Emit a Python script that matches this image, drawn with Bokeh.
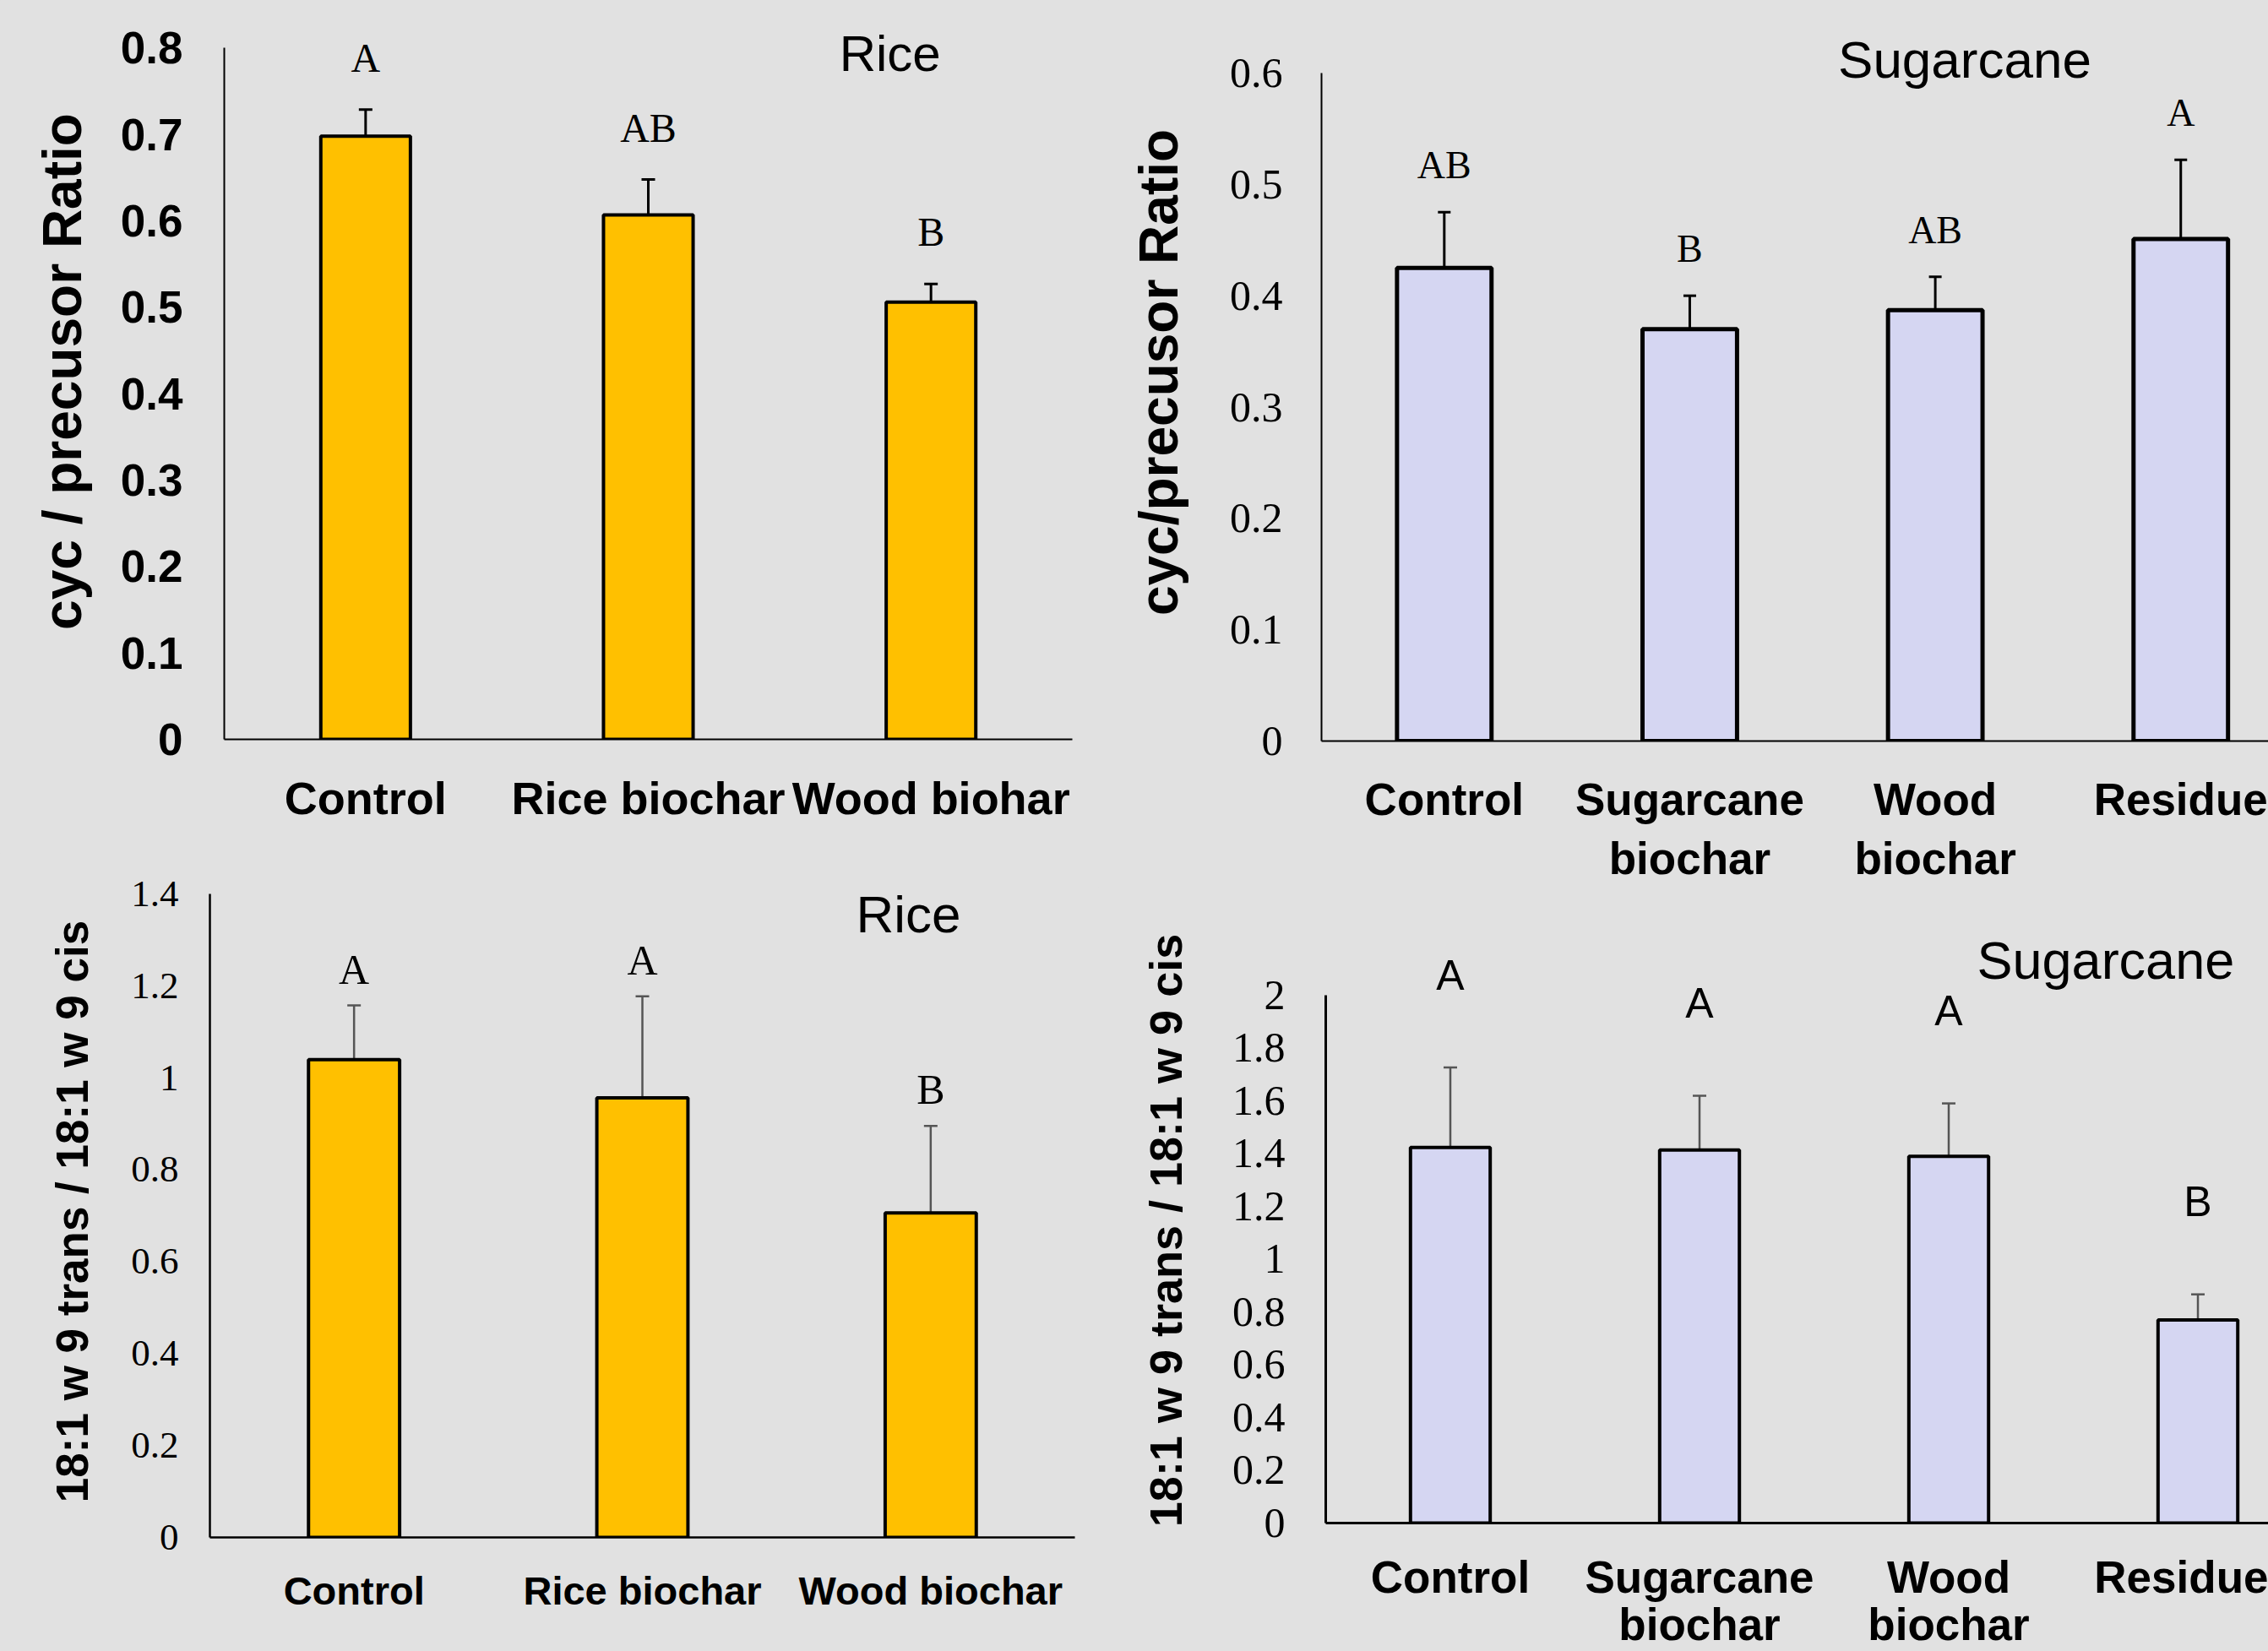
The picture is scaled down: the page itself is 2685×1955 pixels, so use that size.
from bokeh.plotting import figure
from bokeh.models import (Range1d, ColumnDataSource, LabelSet, Label, FixedTicker,
                          Whisker, TeeHead, CustomJSTickFormatter)
from bokeh.layouts import row, column
from bokeh.core.properties import value
from bokeh.embed import file_html
from bokeh.resources import INLINE

# ---------------- data ----------------
rice_cyc_categories = ["Control", "Rice biochar", "Wood biohar"]
rice_cyc_mean = [0.698, 0.607, 0.506]
rice_cyc_err = [0.031, 0.041, 0.021]
rice_cyc_letters = ["A", "AB", "B"]
rice_cyc_yticks = [0, 0.1, 0.2, 0.3, 0.4, 0.5, 0.6, 0.7, 0.8]
rice_cyc_ytick_labels = ["0", "0.1", "0.2", "0.3", "0.4", "0.5", "0.6", "0.7", "0.8"]

sug_cyc_categories = ["Control", "Sugarcane\nbiochar", "Wood\nbiochar", "Residue"]
sug_cyc_mean = [0.425, 0.370, 0.387, 0.451]
sug_cyc_err = [0.050, 0.030, 0.030, 0.071]
sug_cyc_letters = ["AB", "B", "AB", "A"]
sug_cyc_yticks = [0, 0.1, 0.2, 0.3, 0.4, 0.5, 0.6]
sug_cyc_ytick_labels = ["0", "0.1", "0.2", "0.3", "0.4", "0.5", "0.6"]

rice_trans_categories = ["Control", "Rice biochar", "Wood biochar"]
rice_trans_mean = [1.039, 0.956, 0.706]
rice_trans_err = [0.118, 0.221, 0.189]
rice_trans_letters = ["A", "A", "B"]
rice_trans_yticks = [0, 0.2, 0.4, 0.6, 0.8, 1.0, 1.2, 1.4]
rice_trans_ytick_labels = ["0", "0.2", "0.4", "0.6", "0.8", "1", "1.2", "1.4"]

sug_trans_categories = ["Control", "Sugarcane\nbiochar", "Wood\nbiochar", "Residue"]
sug_trans_mean = [1.422, 1.413, 1.389, 0.769]
sug_trans_err = [0.303, 0.205, 0.200, 0.097]
sug_trans_letters = ["A", "A", "A", "B"]
sug_trans_yticks = [0, 0.2, 0.4, 0.6, 0.8, 1.0, 1.2, 1.4, 1.6, 1.8, 2.0]
sug_trans_ytick_labels = ["0", "0.2", "0.4", "0.6", "0.8", "1", "1.2", "1.4", "1.6", "1.8", "2"]

# ---------------- style ----------------
BG = "#e1e1e1"
GOLD = "#FFC000"
LAV = "#D5D6F2"
SANS = "Liberation Sans"
SERIF = "Liberation Serif"


def panel(cfg):
    cats = cfg["categories"]
    n = len(cats)
    xs = list(range(n))
    p = figure(width=cfg["W"], height=cfg["H"],
               x_range=Range1d(-0.5, cfg["x_end"]), y_range=Range1d(0, cfg["y_top"]),
               output_backend="svg", toolbar_location=None,
               min_border_left=cfg["mb"][0], min_border_right=cfg["mb"][1],
               min_border_top=cfg["mb"][2], min_border_bottom=cfg["mb"][3])
    p.frame_align = False
    p.background_fill_color = BG
    p.border_fill_color = BG
    p.outline_line_color = None
    p.grid.visible = False

    upper = [m + e for m, e in zip(cfg["mean"], cfg["err"])]
    letter_y = [u + cfg["letter_gap"] for u in upper]
    src = ColumnDataSource(dict(x=xs, top=cfg["mean"], upper=upper,
                                letter_y=letter_y, letters=cfg["letters"]))
    p.vbar(x="x", top="top", bottom=0, width=cfg["bar_w"], source=src,
           fill_color=cfg["color"], line_color="black", line_width=cfg["bar_lw"])

    ec = cfg["err_color"]
    w = Whisker(base="x", upper="upper", lower="top", source=src,
                line_color=ec, line_width=cfg["err_lw"],
                upper_head=TeeHead(size=cfg["cap"], line_color=ec, line_width=cfg["err_lw"]),
                lower_head=None)
    p.add_layout(w)

    p.add_layout(LabelSet(x="x", y="letter_y", text="letters", source=src,
                          text_align="center", text_baseline="middle",
                          text_font=value(cfg["letter_font"]),
                          text_font_size=value(cfg["letter_size"]),
                          text_color="black"))

    p.add_layout(Label(x=cfg["title_xy"][0], y=cfg["title_xy"][1], text=cfg["title"],
                       text_align="center", text_baseline="middle",
                       text_font=SANS, text_font_size=cfg["title_size"],
                       text_color="black"))

    # y axis
    ya = p.yaxis[0]
    ya.bounds = (0, cfg["ymax"])
    ya.ticker = FixedTicker(ticks=cfg["yticks"])
    ya.formatter = CustomJSTickFormatter(
        args=dict(tv=cfg["yticks"], lab=cfg["ylabels"]),
        code="const i = tv.findIndex(t => Math.abs(t - tick) < 1e-9); return i < 0 ? '' : lab[i];")
    ya.axis_label = cfg["ylabel"]
    ya.axis_label_text_font = SANS
    ya.axis_label_text_font_style = "bold"
    ya.axis_label_text_font_size = cfg["ylabel_size"]
    ya.axis_label_text_color = "black"
    ya.axis_label_standoff = cfg["ylabel_standoff"]
    ya.major_label_text_font = cfg["ytick_font"]
    ya.major_label_text_font_style = cfg["ytick_style"]
    ya.major_label_text_font_size = cfg["ytick_size"]
    ya.major_label_text_color = "black"
    ya.major_label_standoff = cfg["ytick_standoff"]

    # x axis
    xa = p.xaxis[0]
    xa.ticker = FixedTicker(ticks=xs)
    xa.formatter = CustomJSTickFormatter(
        args=dict(lab=cats),
        code="const i = Math.round(tick); return (i >= 0 && i < lab.length) ? lab[i] : '';")
    xa.major_label_text_font = SANS
    xa.major_label_text_font_style = "bold"
    xa.major_label_text_font_size = cfg["xtick_size"]
    xa.major_label_text_line_height = cfg["xtick_lh"]
    xa.major_label_text_color = "black"
    xa.major_label_standoff = cfg["xtick_standoff"]

    for ax in (xa, ya):
        ax.axis_line_color = "black"
        ax.axis_line_width = cfg["axis_lw"]
        ax.major_tick_line_color = None
        ax.minor_tick_line_color = None
        ax.major_tick_out = 0
        ax.major_tick_in = 0
        ax.minor_tick_out = 0
        ax.minor_tick_in = 0
    return p


p1 = panel(dict(
    categories=rice_cyc_categories, mean=rice_cyc_mean, err=rice_cyc_err, letters=rice_cyc_letters,
    yticks=rice_cyc_yticks, ylabels=rice_cyc_ytick_labels, ymax=0.8, y_top=0.8513,
    W=1300, H=1010, x_end=2.5, mb=(265, 31, 4, 135),
    color=GOLD, bar_w=0.317, bar_lw=4, err_color="black", err_lw=3, cap=16,
    letter_gap=0.060, letter_font=SERIF, letter_size="48px",
    title="Rice", title_xy=(1.855, 0.794), title_size="60px",
    ylabel="cyc / precusor Ratio", ylabel_size="64px", ylabel_standoff=30,
    ytick_font=SANS, ytick_style="bold", ytick_size="53px", ytick_standoff=49,
    xtick_size="54px", xtick_lh=1.2, xtick_standoff=39, axis_lw=2))

p3 = panel(dict(
    categories=rice_trans_categories, mean=rice_trans_mean, err=rice_trans_err, letters=rice_trans_letters,
    yticks=rice_trans_yticks, ylabels=rice_trans_ytick_labels, ymax=1.4, y_top=1.418,
    W=1300, H=945, x_end=2.5, mb=(248, 28, 38, 135),
    color=GOLD, bar_w=0.316, bar_lw=4, err_color="#555555", err_lw=2.5, cap=16,
    letter_gap=0.079, letter_font=SERIF, letter_size="50px",
    title="Rice", title_xy=(1.923, 1.356), title_size="62px",
    ylabel="18:1 w 9 trans / 18:1 w 9 cis", ylabel_size="53px", ylabel_standoff=37,
    ytick_font=SERIF, ytick_style="normal", ytick_size="45px", ytick_standoff=37,
    xtick_size="47px", xtick_lh=1.2, xtick_standoff=36, axis_lw=2.5))

p2 = panel(dict(
    categories=sug_cyc_categories, mean=sug_cyc_mean, err=sug_cyc_err, letters=sug_cyc_letters,
    yticks=sug_cyc_yticks, ylabels=sug_cyc_ytick_labels, ymax=0.6, y_top=0.6622,
    W=1385, H=1050, x_end=3.357, mb=(264, 0, 4, 173),
    color=LAV, bar_w=0.385, bar_lw=5, err_color="black", err_lw=3, cap=15,
    letter_gap=0.042, letter_font=SERIF, letter_size="46px",
    title="Sugarcane", title_xy=(2.12, 0.612), title_size="62px",
    ylabel="cyc/precusor Ratio", ylabel_size="64px", ylabel_standoff=45,
    ytick_font=SERIF, ytick_style="normal", ytick_size="50px", ytick_standoff=46,
    xtick_size="53px", xtick_lh=1.2, xtick_standoff=39, axis_lw=2))

p4 = panel(dict(
    categories=sug_trans_categories, mean=sug_trans_mean, err=sug_trans_err, letters=sug_trans_letters,
    yticks=sug_trans_yticks, ylabels=sug_trans_ytick_labels, ymax=2.0, y_top=2.264,
    W=1385, H=905, x_end=3.283, mb=(269, 0, 45, 148),
    color=LAV, bar_w=0.32, bar_lw=4, err_color="#555555", err_lw=2.5, cap=16,
    letter_gap=0.35, letter_font=SANS, letter_size="50px",
    title="Sugarcane", title_xy=(2.63, 2.13), title_size="63px",
    ylabel="18:1 w 9  trans / 18:1 w 9 cis", ylabel_size="54px", ylabel_standoff=46,
    ytick_font=SERIF, ytick_style="normal", ytick_size="50px", ytick_standoff=48,
    xtick_size="53px", xtick_lh=0.95, xtick_standoff=34, axis_lw=3))

layout = row(column(p1, p3), column(p2, p4))

html = file_html(layout, INLINE)
html = html.replace("</head>", "<style>html, body { background-color: #e1e1e1; }</style></head>", 1)
open("out.html", "w").write(html)
